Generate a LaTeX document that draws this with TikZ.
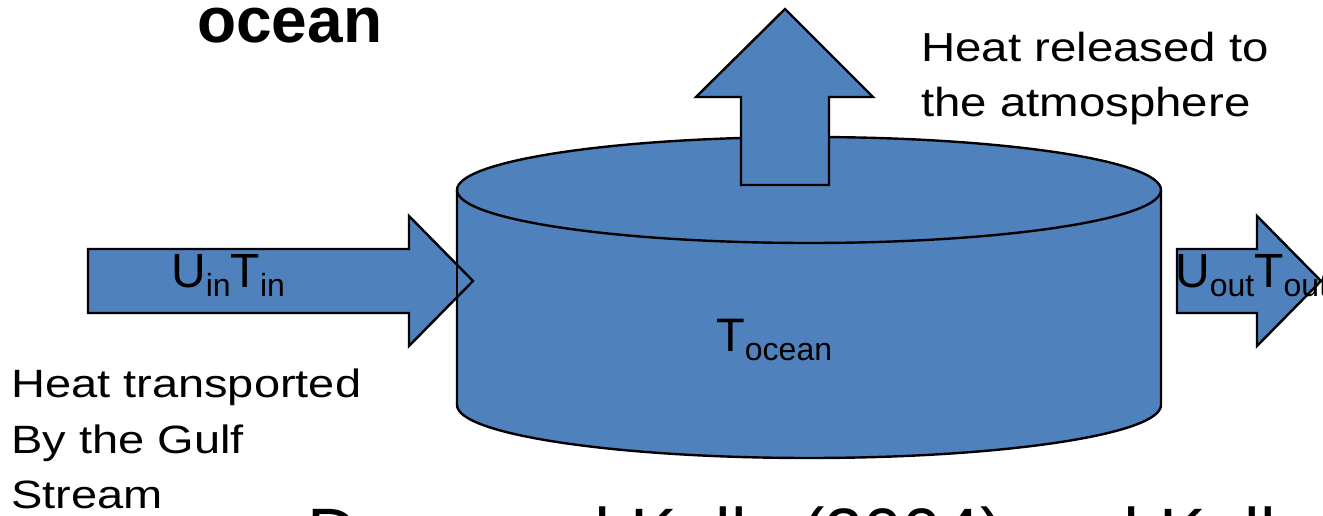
\documentclass[tikz,border=0pt]{standalone}
\usepackage{fontspec}
\setmainfont{Liberation Sans}
\usepackage{graphicx}
\definecolor{oblue}{RGB}{79,129,189}
\newcommand{\subtxt}[1]{\raisebox{-8.5pt}{\fontsize{32}{38}\selectfont #1}}
\begin{document}
\begin{tikzpicture}[x=1pt,y=1pt,
  outl/.style={line width=2.4pt},
  bluearrow/.style={fill=oblue,draw=black,outl,line join=miter},
  lbl/.style={inner sep=0pt,anchor=base west,text=black}]
\useasboundingbox (0,0) rectangle (1323,516);
\clip (0,0) rectangle (1323,516);
% cylinder
\fill[oblue] (457,326) -- (457,111) arc[start angle=180,end angle=360,x radius=352,y radius=53]
  -- (1161,326) arc[start angle=0,end angle=180,x radius=352,y radius=53] -- cycle;
\draw[outl] (457,326) -- (457,111) arc[start angle=180,end angle=360,x radius=352,y radius=53] -- (1161,326);
\draw[outl] (809,326) ellipse[x radius=352,y radius=53];
% up arrow
\draw[bluearrow] (741,331) -- (741,419) -- (696,419) -- (785,507) -- (873,419) -- (829,419) -- (829,331) -- cycle;
% left arrow
\draw[bluearrow] (88,267) -- (409,267) -- (409,300) -- (473,235) -- (409,170) -- (409,203) -- (88,203) -- cycle;
\draw[outl] (457,326) -- (457,111);
% right arrow
\draw[bluearrow] (1177,267) -- (1257,267) -- (1257,300) -- (1321,235) -- (1257,170) -- (1257,203) -- (1177,203) -- cycle;
% texts
\node[lbl,font=\bfseries\fontsize{64}{72}\selectfont] (title) at (197,473) {ocean};
\node[lbl] (released) at (921,454) {\scalebox{1.17}[1]{\fontsize{40.5}{55}\selectfont\begin{tabular}[t]{@{}l@{}}Heat released to\\the atmosphere\end{tabular}}};
\node[lbl] (transported) at (11,118) {\scalebox{1.19}[1]{\fontsize{39.5}{55.5}\selectfont\begin{tabular}[t]{@{}l@{}}Heat transported\\By the Gulf\\Stream\end{tabular}}};
\node[lbl,font=\fontsize{48}{58}\selectfont] (uin) at (171,228) {U\subtxt{in}T\subtxt{in}};
\node[lbl,font=\fontsize{48}{58}\selectfont] (uout) at (1175,228) {U\subtxt{out}T\subtxt{out}};
\node[lbl,font=\fontsize{47}{56}\selectfont] (tocean) at (716,164) {T\subtxt{ocean}};
\node[lbl,font=\fontsize{70}{84}\selectfont] (ref) at (307,-42) {Dong and Kelly (2004) and Kelly};
\end{tikzpicture}
\end{document}
